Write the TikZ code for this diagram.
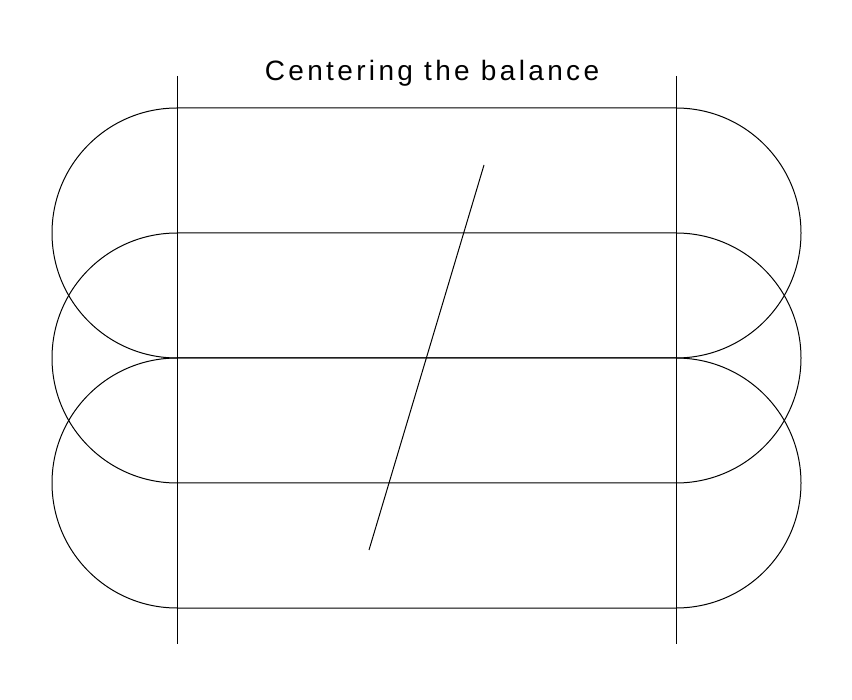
\documentclass[tikz,border=0pt]{standalone}
\usepackage{fontspec}
\setmainfont{Liberation Sans}
\begin{document}
\begin{tikzpicture}[x=1pt,y=-1pt,line width=1pt]
    \useasboundingbox (0,0) rectangle (852,700);
    \node (title) [anchor=base] at (432,81) {\fontsize{28}{30}\selectfont\addfontfeature{LetterSpace=12}Centering the balance};
    \draw (177,76)--(177,644);
    \draw (676,76)--(676,644);
    \draw (177,108)--(676,108) arc (-90:90:125)--(177,358) arc (90:270:125);
    \draw (177,233)--(676,233) arc (-90:90:125)--(177,483) arc (90:270:125);
    \draw (177,358)--(676,358) arc (-90:90:125)--(177,608) arc (90:270:125);
    \draw (484,165)--(369,550);
  \end{tikzpicture}
\end{document}
